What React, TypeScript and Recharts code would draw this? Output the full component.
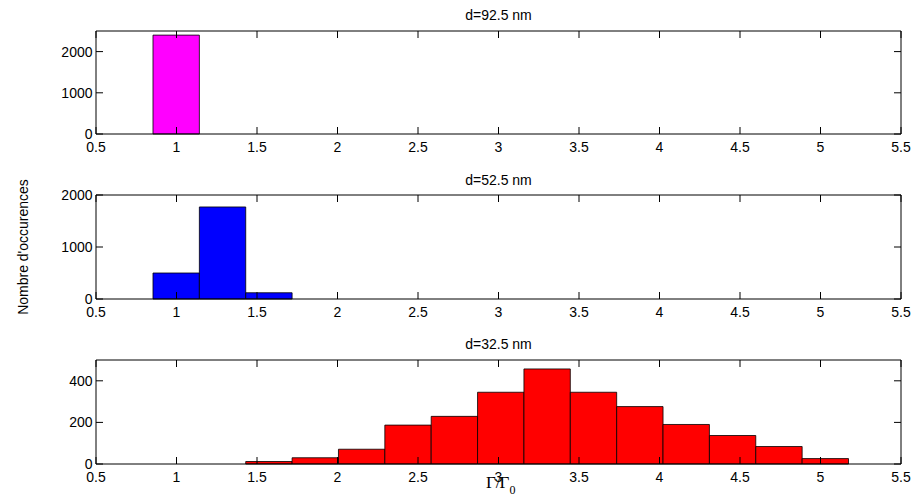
import * as React from 'react';
import { ComposedChart, XAxis, YAxis, ReferenceArea, Line } from 'recharts';

// bin edges shared by the three histograms (Gamma / Gamma0)
const binEdges = [0.854, 1.142, 1.43, 1.718, 2.006, 2.294, 2.582, 2.87, 3.158, 3.446, 3.734, 4.022, 4.31, 4.598, 4.886, 5.174];

const counts925 = [2400, 0, 0, 0, 0, 0, 0, 0, 0, 0, 0, 0, 0, 0, 0];
const counts525 = [500, 1770, 120, 0, 0, 0, 0, 0, 0, 0, 0, 0, 0, 0, 0];
const counts325 = [0, 0, 12, 30, 71, 187, 229, 345, 457, 345, 276, 190, 137, 84, 26];

const xTicks = [0.5, 1, 1.5, 2, 2.5, 3, 3.5, 4, 4.5, 5, 5.5];
const yTicks925 = [0, 1000, 2000];
const yTicks525 = [0, 1000, 2000];
const yTicks325 = [0, 200, 400];

const titles = ['d=92.5 nm', 'd=52.5 nm', 'd=32.5 nm'];
const colors = ['#ff00ff', '#0000ff', '#ff0000'];

const FONT = '"Liberation Sans", Arial, Helvetica, sans-serif';
const tickStyle = { fontSize: 14, fill: '#000', fontFamily: FONT };
const noLabel = () => '';

interface IPanel {
    counts: number[];
    color: string;
    yMax: number;
    yTicks: number[];
    top: number;
    height: number;
    marginTop: number;
    marginBottom: number;
}

const HistPanel = (props: IPanel) => {
    const bins = props.counts.map((c, i) => ({
        lo: binEdges[i],
        hi: binEdges[i + 1],
        mid: (binEdges[i] + binEdges[i + 1]) / 2,
        count: c
    }));
    const xDomain: [number, number] = [0.5, 5.5];
    const yDomain: [number, number] = [0, props.yMax];
    return (
        <div style={{ position: 'absolute', left: 0, top: props.top }}>
            <ComposedChart
                width={915}
                height={props.height}
                data={bins}
                margin={{ top: props.marginTop, right: 14, bottom: props.marginBottom, left: 36 }}
            >
                <XAxis
                    xAxisId="main"
                    dataKey="mid"
                    type="number"
                    domain={xDomain}
                    ticks={xTicks}
                    allowDataOverflow
                    height={25}
                    tickLine={false}
                    tickSize={0}
                    tickMargin={8}
                    axisLine={{ stroke: '#000' }}
                    tick={tickStyle}
                    interval={0}
                />
                <XAxis
                    xAxisId="bottomIn"
                    dataKey="mid"
                    type="number"
                    domain={xDomain}
                    ticks={xTicks}
                    allowDataOverflow
                    mirror
                    tickFormatter={noLabel}
                    tickSize={7}
                    tickLine={{ stroke: '#000' }}
                    axisLine={false}
                    interval={0}
                />
                <XAxis
                    xAxisId="topIn"
                    dataKey="mid"
                    orientation="top"
                    type="number"
                    domain={xDomain}
                    ticks={xTicks}
                    allowDataOverflow
                    mirror
                    tickFormatter={noLabel}
                    tickSize={7}
                    tickLine={{ stroke: '#000' }}
                    axisLine={{ stroke: '#000' }}
                    interval={0}
                />
                <YAxis
                    yAxisId="main"
                    type="number"
                    domain={yDomain}
                    ticks={props.yTicks}
                    allowDataOverflow
                    width={60}
                    tickLine={false}
                    tickSize={0}
                    tickMargin={3.5}
                    axisLine={{ stroke: '#000' }}
                    tick={tickStyle}
                    interval={0}
                />
                <YAxis
                    yAxisId="leftIn"
                    type="number"
                    domain={yDomain}
                    ticks={props.yTicks}
                    allowDataOverflow
                    mirror
                    tickFormatter={noLabel}
                    tickSize={7}
                    tickLine={{ stroke: '#000' }}
                    axisLine={false}
                    interval={0}
                />
                <YAxis
                    yAxisId="rightIn"
                    orientation="right"
                    type="number"
                    domain={yDomain}
                    ticks={props.yTicks}
                    allowDataOverflow
                    mirror
                    tickFormatter={noLabel}
                    tickSize={7}
                    tickLine={{ stroke: '#000' }}
                    axisLine={{ stroke: '#000' }}
                    interval={0}
                />
                {bins
                    .filter(b => b.count > 0)
                    .map((b, i) => (
                        <ReferenceArea
                            key={`bin-${i}`}
                            xAxisId="main"
                            yAxisId="main"
                            x1={b.lo}
                            x2={b.hi}
                            y1={0}
                            y2={b.count}
                            fill={props.color}
                            fillOpacity={1}
                            stroke="#000"
                            strokeWidth={0.8}
                        />
                    ))}
                <Line
                    xAxisId="main"
                    yAxisId="main"
                    dataKey="count"
                    stroke="none"
                    dot={false}
                    activeDot={false}
                    isAnimationActive={false}
                />
                <Line
                    xAxisId="bottomIn"
                    yAxisId="leftIn"
                    dataKey="count"
                    stroke="none"
                    dot={false}
                    activeDot={false}
                    isAnimationActive={false}
                />
                <Line
                    xAxisId="topIn"
                    yAxisId="rightIn"
                    dataKey="count"
                    stroke="none"
                    dot={false}
                    activeDot={false}
                    isAnimationActive={false}
                />
            </ComposedChart>
        </div>
    );
};

const App = () => {
    return (
        <div
            style={{
                position: 'absolute',
                left: 0,
                top: 0,
                width: 915,
                height: 501,
                background: '#fff',
                overflow: 'hidden'
            }}
        >
            <HistPanel counts={counts925} color={colors[0]} yMax={2500} yTicks={yTicks925} top={0} height={165} marginTop={31} marginBottom={6} />
            <HistPanel counts={counts525} color={colors[1]} yMax={2000} yTicks={yTicks525} top={165} height={165} marginTop={30} marginBottom={6} />
            <HistPanel counts={counts325} color={colors[2]} yMax={500} yTicks={yTicks325} top={330} height={171} marginTop={30} marginBottom={12} />
            <svg
                width={915}
                height={501}
                style={{ position: 'absolute', left: 0, top: 0, pointerEvents: 'none' }}
            >
                <text x={498.5} y={19.5} textAnchor="middle" fontSize={14} fontFamily={FONT}>{titles[0]}</text>
                <text x={498.5} y={184.5} textAnchor="middle" fontSize={14} fontFamily={FONT}>{titles[1]}</text>
                <text x={498.5} y={348.5} textAnchor="middle" fontSize={14} fontFamily={FONT}>{titles[2]}</text>
                <text
                    transform="translate(28,247) rotate(-90)"
                    textAnchor="middle"
                    fontSize={14}
                    fontFamily={FONT}
                >
                    Nombre d'occurences
                </text>
                <text x={486} y={488} fontSize={17} fontFamily='"Liberation Serif", "Times New Roman", serif'>
                    Γ<tspan>/</tspan><tspan dx={-1}>Γ</tspan>
                    <tspan dy={6} fontSize={12}>0</tspan>
                </text>
            </svg>
        </div>
    );
};

export default App;
